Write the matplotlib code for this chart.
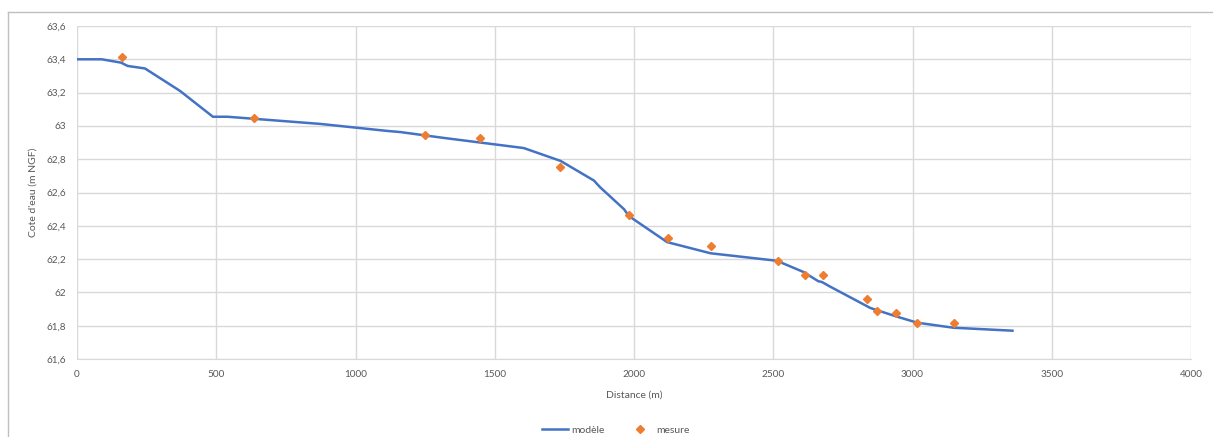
import matplotlib.pyplot as plt
from matplotlib.lines import Line2D
from matplotlib.ticker import FuncFormatter, MultipleLocator

# Ligne d'eau modélisée (distance en m, cote en m NGF)
modele_x = [0, 89, 158, 182, 244, 370, 488, 540, 873, 1113, 1161, 1316, 1604, 1736,
            1856, 1878, 1964, 1982, 2119, 2275, 2513, 2608, 2662, 2674, 2704, 2848,
            2860, 2943, 3017, 3146, 3359]
modele_y = [63.40, 63.40, 63.38, 63.36, 63.345, 63.21, 63.055, 63.055, 63.012, 62.97,
            62.963, 62.928, 62.867, 62.79, 62.672, 62.632, 62.50, 62.458, 62.302, 62.235,
            62.19, 62.123, 62.067, 62.063, 62.035, 61.907, 61.9, 61.855, 61.818, 61.788,
            61.77]

# Points de mesure
mesure_x = [160, 636, 1248, 1448, 1736, 1982, 2121, 2277, 2516, 2614, 2680, 2836,
            2874, 2941, 3017, 3149]
mesure_y = [63.415, 63.045, 62.945, 62.927, 62.756, 62.466, 62.325, 62.279, 62.189,
            62.105, 62.105, 61.958, 61.887, 61.875, 61.817, 61.817]

plt.rcParams['font.family'] = ['Lato', 'DejaVu Sans']
gris = '#595959'

fig = plt.figure(figsize=(12.13, 4.37), dpi=100)
ax = fig.add_axes([77 / 1213, 1 - 359 / 437, (1191 - 77) / 1213, (359 - 26) / 437])

ax.plot(modele_x, modele_y, color='#4472C4', linewidth=1.8, label='modèle', zorder=3)
ax.plot(mesure_x, mesure_y, linestyle='none', marker='D', markersize=4.2,
        color='#ED7D31', label='mesure', zorder=4)

ax.set_xlim(0, 4000)
ax.set_ylim(61.6, 63.6)
ax.xaxis.set_major_locator(MultipleLocator(500))
ax.yaxis.set_major_locator(MultipleLocator(0.2))
ax.yaxis.set_major_formatter(FuncFormatter(lambda v, p: f"{v:.1f}".rstrip('0').rstrip('.').replace('.', ',')))

ax.grid(True, color='#D9D9D9', linewidth=1)
ax.set_axisbelow(True)
for s in ['top', 'right', 'left']:
    ax.spines[s].set_visible(False)
ax.spines['bottom'].set_color('#D9D9D9')
ax.tick_params(length=0, labelsize=7.2, colors=gris, pad=8)

ax.set_xlabel('Distance (m)', fontsize=7.5, color=gris, labelpad=8)
ax.set_ylabel("Cote d'eau (m NGF)", fontsize=7.5, color=gris, labelpad=6)

fig.legend(loc='center', bbox_to_anchor=(616 / 1213, 1 - 430 / 437), ncol=2,
           frameon=False, fontsize=7.5, labelcolor=gris, handlelength=2.5,
           handletextpad=0.3, columnspacing=2.2, borderaxespad=0)

# cadre de la zone de graphique
fig.add_artist(Line2D([8 / 1213, 1], [1 - 12 / 437, 1 - 12 / 437], color='#BFBFBF', linewidth=1))
fig.add_artist(Line2D([8 / 1213, 8 / 1213], [0, 1 - 12 / 437], color='#BFBFBF', linewidth=1))

fig.savefig('out.png', dpi=100)
